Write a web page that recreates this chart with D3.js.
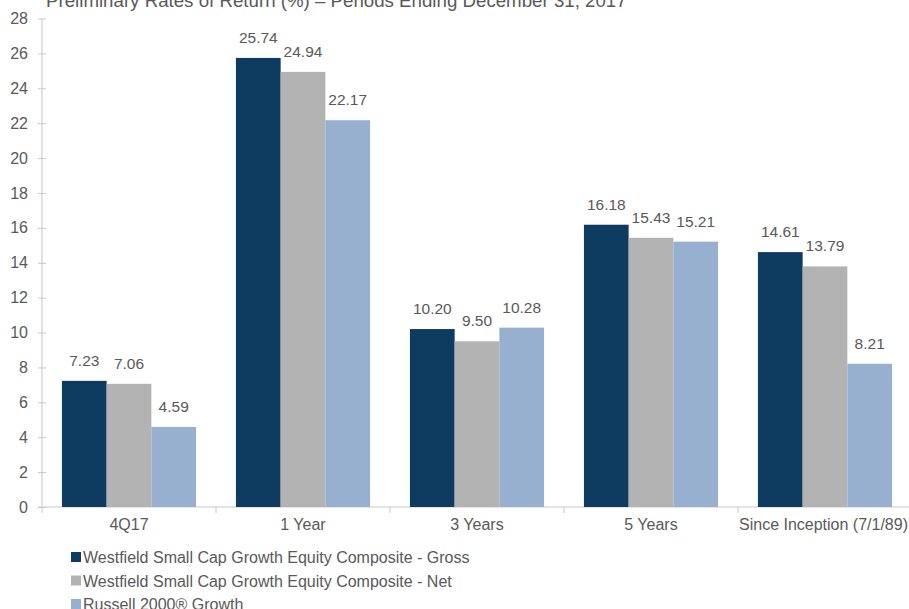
<!DOCTYPE html>
<html><head><meta charset="utf-8">
<script src="https://cdn.jsdelivr.net/npm/d3@7"></script>
<style>body{margin:0;background:#fff}svg{display:block;font-family:"Liberation Sans",Arial,sans-serif}</style>
</head><body>
<svg id="c" width="909" height="609"></svg>
<script>
const title = "Preliminary Rates of Return (%) – Periods Ending December 31, 2017";
const categories = ["4Q17","1 Year","3 Years","5 Years","Since Inception (7/1/89)"];
const seriesNames = ["Westfield Small Cap Growth Equity Composite - Gross","Westfield Small Cap Growth Equity Composite - Net","Russell 2000® Growth"];
const gross = [7.23,25.74,10.20,16.18,14.61];
const net = [7.06,24.94,9.50,15.43,13.79];
const russell = [4.59,22.17,10.28,15.21,8.21];
const yTicks = [0,2,4,6,8,10,12,14,16,18,20,22,24,26,28];
const colors = ["#0e3b60","#b3b3b3","#97b0cf"];

(function(){
const series = [gross, net, russell];
const svg = d3.select("#c");
const mL = 42, mR = 912, mT = 18.5, mB = 507;
const x = d3.scaleBand().domain(categories).range([mL,mR]).paddingInner(0).paddingOuter(0);
const inner = d3.scaleBand().domain(d3.range(3)).range([0,x.bandwidth()]).paddingOuter(0.446).paddingInner(0);
const y = d3.scaleLinear().domain([0,28]).range([mB,mT]);
const txt = "#595959", axisCol = "#c8c8c8";

svg.append("text").attr("x",46).attr("y",6.5).attr("font-size",18.7).attr("fill",txt).text(title);

// y axis
const ya = svg.append("g").attr("transform",`translate(${mL},0)`)
  .call(d3.axisLeft(y).tickValues(yTicks).tickSize(4).tickPadding(10).tickFormat(d3.format("d")));
ya.select(".domain").attr("stroke",axisCol).attr("d",`M0,${mT}V${mB}`);
ya.selectAll(".tick line").attr("stroke",axisCol).attr("x1",-4).attr("x2",4);
ya.selectAll(".tick text").attr("fill",txt).attr("font-size",16).attr("font-family","Liberation Sans, Arial, sans-serif");

// x axis
const xa = svg.append("g").attr("transform",`translate(0,${mB})`);
xa.append("line").attr("x1",mL-4).attr("x2",909).attr("stroke",axisCol);
const bounds = categories.map(c=>x(c)).concat([mR]);
xa.selectAll("line.t").data(bounds).join("line").attr("class","t")
  .attr("x1",d=>d).attr("x2",d=>d).attr("y1",0).attr("y2",6).attr("stroke",axisCol);
xa.selectAll("text").data(categories).join("text")
  .attr("x",d=>x(d)+x.bandwidth()/2).attr("y",22.5).attr("text-anchor","middle")
  .attr("font-size",16).attr("fill",txt).text(d=>d)
  .each(function(){
    const w = this.getComputedTextLength();
    const cx = +this.getAttribute("x");
    if (cx + w/2 > 908) this.setAttribute("x", 908 - w/2);
  });

// bars
series.forEach((vals,si)=>{
  const g = svg.append("g");
  g.selectAll("rect").data(vals).join("rect")
    .attr("x",(d,i)=>x(categories[i])+inner(si))
    .attr("width",inner.bandwidth())
    .attr("y",d=>y(d)).attr("height",d=>mB-y(d))
    .attr("fill",colors[si]);
  g.selectAll("text").data(vals).join("text")
    .attr("x",(d,i)=>x(categories[i])+inner(si)+inner.bandwidth()/2)
    .attr("y",d=>y(d)-15).attr("text-anchor","middle")
    .attr("font-size",15.5).attr("fill",txt).text(d=>d.toFixed(2));
});

// legend
const lg = svg.append("g");
seriesNames.forEach((n,i)=>{
  const yy = 557 + i*23.5;
  lg.append("rect").attr("x",71).attr("y",yy-5).attr("width",10).attr("height",10).attr("fill",colors[i]);
  lg.append("text").attr("x",83).attr("y",yy+6).attr("font-size",16).attr("fill",txt).text(n);
});
})();
</script>
</body></html>
